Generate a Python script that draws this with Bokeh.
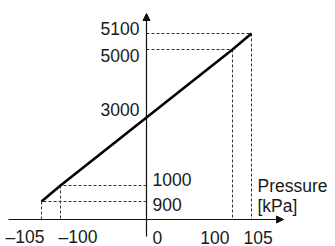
import numpy as np
from bokeh.plotting import figure
from bokeh.models import Range1d, Arrow, NormalHead, ColumnDataSource
from bokeh.core.properties import value
from bokeh.embed import file_html
from bokeh.resources import INLINE

# ---- data (schematic: pressure [kPa] -> output) ----
pressure = [-105, -100, 0, 100, 105]
output = [900, 1000, 3000, 5000, 5100]
x_tick_labels = ["–105", "–100", "0", "100", "105"]
y_tick_labels = ["900", "1000", "3000", "5000", "5100"]
x_title = ["Pressure", "[kPa]"]

# ---- schematic (not-to-scale) display mapping, layout only ----
sx_knots = [-105, -86, 0, 86, 105]
sy_knots = [-84, -68, 0, 68, 84]


def sx(v):
    return np.interp(v, pressure, sx_knots)


def sy(v):
    return np.interp(v, output, sy_knots)


AXIS_Y = -102  # display y of the pressure axis baseline

FONT = value("Liberation Sans")
FS = "17.5px"
TXT = "#1a1a1a"

p = figure(width=335, height=246, output_backend="svg", toolbar_location=None,
           x_range=Range1d(-146, 189), y_range=Range1d(-129, 117),
           x_axis_location=None, y_axis_location=None, min_border=0)
p.outline_line_color = None
p.xgrid.visible = False
p.ygrid.visible = False
p.background_fill_color = "white"

xd = sx(np.array(pressure, dtype=float))
yd = sy(np.array(output, dtype=float))

# dashed guide lines for the non-zero points
idx = [i for i, v in enumerate(pressure) if v != 0]
hx0 = [0.0] * len(idx)
hx1 = [xd[i] for i in idx]
hy = [yd[i] for i in idx]
p.segment(x0=hx0, y0=hy, x1=hx1, y1=hy, line_color="#333333",
          line_width=1, line_dash="3 2")
p.segment(x0=hx1, y0=hy, x1=hx1, y1=[AXIS_Y] * len(idx), line_color="#333333",
          line_width=1, line_dash="3 2")

# axes with arrows
p.add_layout(Arrow(x_start=-138, y_start=AXIS_Y, x_end=137, y_end=AXIS_Y,
                   line_color="#111111", line_width=1.2,
                   end=NormalHead(size=7, fill_color="#111111", line_color="#111111")))
p.add_layout(Arrow(x_start=0, y_start=-119, x_end=0, y_end=104,
                   line_color="#111111", line_width=1.2,
                   end=NormalHead(size=7, fill_color="#111111", line_color="#111111")))

# characteristic line
p.line(xd, yd, line_color="black", line_width=2.6)

# y tick labels
y_align = ["left", "left", "right", "right", "right"]
y_xoff = [6, 6, -7, -7, -7]
y_yoff = [3, -6, -8, 5.5, -5]
ys = ColumnDataSource(dict(x=[0.0] * 5, y=list(yd), t=y_tick_labels,
                           a=y_align, xo=y_xoff, yo=y_yoff))
p.text(x="x", y="y", text="t", text_align="a", x_offset="xo", y_offset="yo",
       source=ys, text_font=FONT, text_font_size=FS, text_color=TXT,
       text_baseline="middle")

# x tick labels
x_align = ["right", "left", "left", "right", "left"]
x_xoff = [3, -2, 6, -3, -8]
xs = ColumnDataSource(dict(x=list(xd), y=[AXIS_Y] * 5, t=x_tick_labels,
                           a=x_align, xo=x_xoff))
p.text(x="x", y="y", text="t", text_align="a", x_offset="xo", y_offset=17.5,
       source=xs, text_font=FONT, text_font_size=FS, text_color=TXT,
       text_baseline="middle")

# axis title
p.text(x=[xd[-1], xd[-1]], y=[AXIS_Y, AXIS_Y], text=x_title,
       x_offset=6, y_offset=[-34, -14], text_font=FONT, text_font_size=FS,
       text_color=TXT, text_align="left", text_baseline="alphabetic")

open("out.html", "w").write(file_html(p, INLINE))
